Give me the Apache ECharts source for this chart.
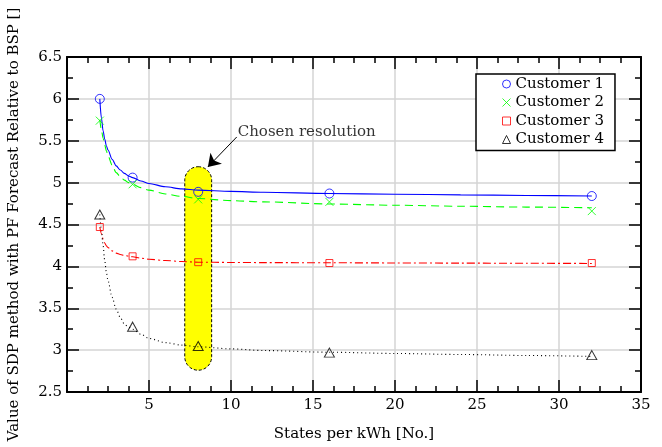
<!DOCTYPE html>
<html>
<head>
<meta charset="utf-8">
<script src="https://cdn.jsdelivr.net/npm/echarts@6/dist/echarts.min.js"></script>
<style>
html,body{margin:0;padding:0;background:#fff;}
#chart{width:662px;height:447px;}
</style>
</head>
<body>
<div id="chart"></div>
<script>
// ---- data ----
const seriesNames = ['Customer 1', 'Customer 2', 'Customer 3', 'Customer 4'];
const statesPerKWh = [2, 4, 8, 16, 32];
const customer1 = [6.00, 5.06, 4.89, 4.87, 4.84];
const customer2 = [5.74, 4.98, 4.80, 4.77, 4.66];
const customer3 = [4.47, 4.12, 4.05, 4.04, 4.04];
const customer4 = [4.62, 3.28, 3.05, 2.97, 2.94];

// fitted curves, sampled from the drawn lines
const fitX = [2, 2.1, 2.2, 2.3, 2.4, 2.5, 2.75, 3, 3.25, 3.5, 3.75, 4, 4.5, 5, 6, 7, 8, 10, 12, 16, 20, 24, 28, 32];
const fit1 = [6.00, 5.77, 5.62, 5.52, 5.44, 5.39, 5.28, 5.20, 5.15, 5.11, 5.08, 5.06, 5.02, 4.99, 4.95, 4.925, 4.91, 4.895, 4.885, 4.87, 4.862, 4.854, 4.847, 4.84];
const fit2 = [5.75, 5.63, 5.53, 5.45, 5.38, 5.32, 5.21, 5.12, 5.07, 5.03, 5.00, 4.98, 4.94, 4.91, 4.865, 4.835, 4.81, 4.785, 4.77, 4.745, 4.73, 4.718, 4.708, 4.70];
const fit3 = [4.47, 4.39, 4.325, 4.28, 4.245, 4.225, 4.185, 4.158, 4.142, 4.13, 4.122, 4.115, 4.098, 4.085, 4.07, 4.058, 4.05, 4.047, 4.045, 4.043, 4.041, 4.039, 4.037, 4.035];
const fit4 = [4.62, 4.43, 4.25, 4.07, 3.93, 3.83, 3.63, 3.49, 3.39, 3.31, 3.275, 3.25, 3.19, 3.14, 3.09, 3.06, 3.04, 3.015, 2.995, 2.975, 2.96, 2.948, 2.936, 2.925];

// highlighted resolution: [x centre, y bottom, y top, width in x units]
const highlight = [8.0, 2.76, 5.19, 1.64];
const annotationText = 'Chosen resolution';
const annotationAnchor = [10.41, 5.605];
const arrowFrom = [10.35, 5.545];
const arrowTo = [8.59, 5.187];

const xTicks = {min: 0, max: 35, interval: 5};
const yTicks = {min: 2.5, max: 6.5, interval: 0.5};

const xTitle = 'States per kWh [No.]';
const yTitle = 'Value of SDP method with PF Forecast Relative to BSP []';

// ---- chart ----
const FONT = 'DejaVu Serif';
const pair = (xs, ys) => xs.map((x, i) => [x, ys[i]]);

const chart = echarts.init(document.getElementById('chart'), null, {renderer: 'canvas'});

const tickStyle = {color: '#000', width: 1.5};
function baseAxis(extra) {
  return Object.assign({
    type: 'value',
    axisLine: {show: true, onZero: false, lineStyle: {color: '#000', width: 2}},
    axisTick: {show: true, inside: true, length: 12, lineStyle: tickStyle},
    minorTick: {show: true, length: 6, lineStyle: tickStyle},
    splitLine: {show: false},
    minorSplitLine: {show: false}
  }, extra);
}

const colors = ['#0000ff', '#00ff00', '#ff0000', '#000000'];
const fitDash = ['solid', [8, 5], [8, 3, 2, 3], [1, 3]];
const fits = [fit1, fit2, fit3, fit4];
const pts = [customer1, customer2, customer3, customer4];
const symbols = ['circle', 'path://M0,0L10,10M10,0L0,10', 'rect', 'triangle'];
const symbolSizes = [9, 8, 7, [10, 9]];

const series = [];
series.push({
  name: 'highlight',
  type: 'custom',
  z: 1,
  silent: true,
  data: [highlight],
  renderItem: function (params, api) {
    const top = api.coord([api.value(0), api.value(2)]);
    const bottom = api.coord([api.value(0), api.value(1)]);
    const w = api.size([api.value(3), 0])[0];
    return {
      type: 'rect',
      shape: {x: top[0] - w / 2, y: top[1], width: w, height: bottom[1] - top[1], r: w / 2},
      style: {fill: '#ffff00', stroke: '#000', lineWidth: 1, lineDash: [3, 2]}
    };
  }
});
fits.forEach((f, i) => {
  series.push({
    name: seriesNames[i] + ' fit',
    type: 'line',
    z: 2,
    silent: true,
    smooth: 0.3,
    smoothMonotone: 'x',
    showSymbol: false,
    symbol: 'none',
    data: pair(fitX, f),
    lineStyle: {color: colors[i], width: 1.1, type: fitDash[i]}
  });
});
pts.forEach((p, i) => {
  series.push({
    name: seriesNames[i],
    type: 'scatter',
    z: 3,
    silent: true,
    symbol: symbols[i],
    symbolSize: symbolSizes[i],
    data: pair(statesPerKWh, p),
    itemStyle: {color: 'rgba(255,255,255,0)', borderColor: colors[i], borderWidth: 1}
  });
});
series.push({
  name: 'annotation',
  type: 'scatter',
  z: 4,
  silent: true,
  symbol: 'circle',
  symbolSize: 0,
  data: [annotationAnchor],
  itemStyle: {color: 'rgba(0,0,0,0)'},
  label: {
    show: true, position: 'right', distance: 0,
    formatter: annotationText,
    fontFamily: FONT, fontSize: 15, color: '#000'
  },
  markLine: {
    silent: true,
    symbol: ['none', 'arrow'],
    symbolSize: 12,
    label: {show: false},
    lineStyle: {color: '#000', width: 1, type: 'solid'},
    emphasis: {disabled: true},
    data: [[{coord: arrowFrom}, {coord: arrowTo}]]
  }
});

const option = {
  animation: false,
  backgroundColor: '#fff',
  textStyle: {fontFamily: FONT},
  grid: {left: 67, right: 21, top: 57, bottom: 55, containLabel: false, outerBoundsMode: 'none'},
  legend: {
    data: seriesNames,
    orient: 'vertical',
    left: 476,
    top: 74,
    padding: [2, 11, 3, 26],
    itemWidth: 8,
    itemHeight: 8,
    itemGap: 2.5,
    itemStyle: {borderWidth: 1},
    backgroundColor: '#fff',
    borderColor: '#000',
    borderWidth: 1.5,
    borderRadius: 0,
    selectedMode: false,
    textStyle: {fontFamily: FONT, fontSize: 15, color: '#000', lineHeight: 16}
  },
  xAxis: [
    baseAxis({
      position: 'bottom',
      min: xTicks.min, max: xTicks.max, interval: xTicks.interval,
      minorTick: {show: true, splitNumber: 4, length: 6, lineStyle: tickStyle},
      name: xTitle, nameLocation: 'middle', nameGap: 35,
      nameTextStyle: {fontFamily: FONT, fontSize: 15, color: '#000'},
      axisLabel: {fontFamily: FONT, fontSize: 15, color: '#000', margin: 6,
        formatter: v => (v === 0 ? '' : String(v))},
      splitLine: {show: true, lineStyle: {color: '#d4d4d4', width: 1.5}}
    }),
    baseAxis({
      position: 'top',
      min: xTicks.min, max: xTicks.max, interval: xTicks.interval,
      minorTick: {show: true, splitNumber: 4, length: 6, lineStyle: tickStyle},
      axisLabel: {show: false}
    })
  ],
  yAxis: [
    baseAxis({
      position: 'left',
      min: yTicks.min, max: yTicks.max, interval: yTicks.interval,
      minorTick: {show: true, splitNumber: 2, length: 6, lineStyle: tickStyle},
      name: yTitle, nameLocation: 'middle', nameGap: 45,
      nameTextStyle: {fontFamily: FONT, fontSize: 15, color: '#000'},
      axisLabel: {fontFamily: FONT, fontSize: 15, color: '#000', margin: 5},
      splitLine: {show: true, lineStyle: {color: '#d4d4d4', width: 1.5}}
    }),
    baseAxis({
      position: 'right',
      min: yTicks.min, max: yTicks.max, interval: yTicks.interval,
      minorTick: {show: true, splitNumber: 2, length: 6, lineStyle: tickStyle},
      axisLabel: {show: false}
    })
  ],
  series: series
};
chart.setOption(option);
</script>
</body>
</html>
